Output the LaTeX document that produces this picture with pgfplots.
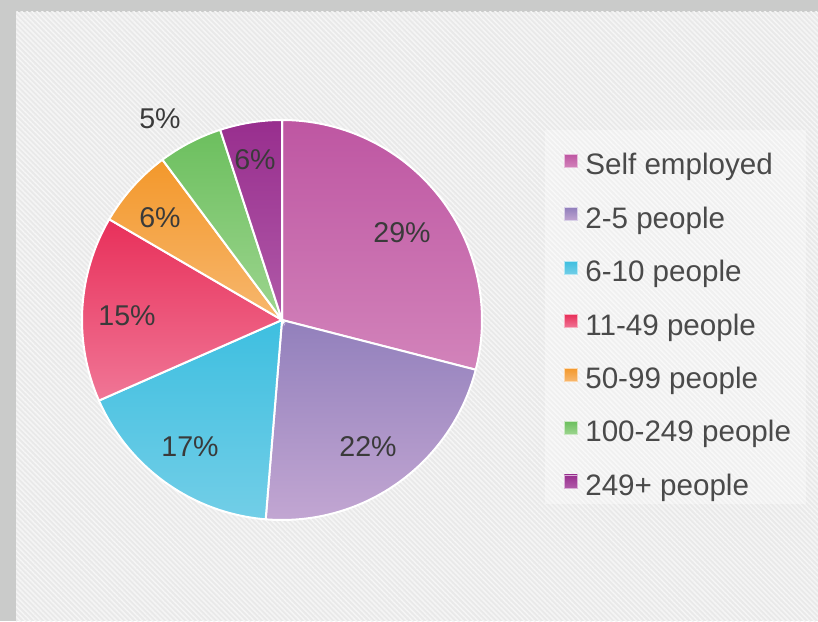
\documentclass[border=0pt]{standalone}
\usepackage{pgfplots}
\pgfplotsset{compat=1.18}
\usepackage{fontspec}
\setmainfont{Liberation Sans}
\usetikzlibrary{patterns.meta}

\definecolor{bordergray}{HTML}{CACBCA}
\definecolor{bgbase}{HTML}{E9E9E9}
\definecolor{bgline}{HTML}{F5F5F5}
\definecolor{labelgray}{HTML}{3A3A3A}
\definecolor{legendgray}{HTML}{4A4A4A}
% slice colours: top / bottom / legend
\definecolor{cAt}{HTML}{BE56A2}\definecolor{cAb}{HTML}{D283BA}\definecolor{cA}{HTML}{C25BA5}
\definecolor{cBt}{HTML}{9280BC}\definecolor{cBb}{HTML}{C2A6D2}\definecolor{cB}{HTML}{A08CC6}
\definecolor{cCt}{HTML}{3EBFE0}\definecolor{cCb}{HTML}{72CEE7}\definecolor{cC}{HTML}{45C3E2}
\definecolor{cDt}{HTML}{E8305A}\definecolor{cDb}{HTML}{F07696}\definecolor{cD}{HTML}{EB3D63}
\definecolor{cEt}{HTML}{F3982B}\definecolor{cEb}{HTML}{F7B76E}\definecolor{cE}{HTML}{F59D38}
\definecolor{cFt}{HTML}{6CBF5E}\definecolor{cFb}{HTML}{9DD58F}\definecolor{cF}{HTML}{7CC66C}
\definecolor{cGt}{HTML}{982E8E}\definecolor{cGb}{HTML}{B05AA8}\definecolor{cG}{HTML}{A03A98}

% shares in percent, clockwise from 12 o'clock
\def\vA{29}   % Self employed
\def\vB{22.3} % 2-5 people
\def\vC{17.1} % 6-10 people
\def\vD{15.0} % 11-49 people
\def\vE{6.4}  % 50-99 people
\def\vF{5.2}  % 100-249 people
\def\vG{5.0}  % 249+ people

\pgfmathsetmacro\aA{90}
\pgfmathsetmacro\aB{\aA-3.6*\vA}
\pgfmathsetmacro\aC{\aB-3.6*\vB}
\pgfmathsetmacro\aD{\aC-3.6*\vC}
\pgfmathsetmacro\aE{\aD-3.6*\vD}
\pgfmathsetmacro\aF{\aE-3.6*\vE}
\pgfmathsetmacro\aG{\aF-3.6*\vF}
\pgfmathsetmacro\aH{\aG-3.6*\vG}

\newcommand\slice[5]{% end, start, top, bottom, legend colour
  \addplot[draw=white, line width=1pt, top color=#3, bottom color=#4,
    domain=#1:#2, samples=80, variable=\t,
    legend image code/.code={\fill[#5, draw=white!60!#5, line width=0.4pt] (0pt,-0.05pt) rectangle (6.5pt,6.45pt);}]
    ({282+200*cos(\t)},{301+200*sin(\t)}) -- (axis cs:282,301) -- cycle;
}

\begin{document}
\begin{tikzpicture}
\begin{axis}[
  scale only axis, width=409pt, height=310.5pt,
  xmin=0, xmax=818, ymin=0, ymax=621,
  hide axis,
  legend cell align=left,
  legend style={at={(axis cs:563.5,467.5)}, anchor=north west, draw=none, fill=none,
    inner sep=0pt, row sep=13.2pt,
    font=\fontsize{14.8}{16}\selectfont, text=legendgray,
    nodes={inner sep=0pt, text height=10.5pt, text depth=3pt}},
  /tikz/every odd column/.append style={column sep=3.8pt},
]
% background
\addplot[fill=bordergray, draw=none, forget plot] coordinates {(0,0) (818,0) (818,621) (0,621)} -- cycle;
\addplot[fill=bgbase, draw=none, forget plot] coordinates {(16,0) (818,0) (818,609) (16,609)} -- cycle;
\addplot[draw=none, pattern={Lines[angle=-45, distance=1.8pt, line width=0.8pt]}, pattern color=bgline, forget plot] coordinates {(16,0) (818,0) (818,609) (16,609)} -- cycle;
% legend panel
\addplot[fill=white, fill opacity=0.35, draw=none, forget plot] coordinates {(545,117) (806,117) (806,491) (545,491)} -- cycle;

\slice{\aB}{\aA}{cAt}{cAb}{cA}
\addlegendentry{Self employed}
\slice{\aC}{\aB}{cBt}{cBb}{cB}
\addlegendentry{2-5 people}
\slice{\aD}{\aC}{cCt}{cCb}{cC}
\addlegendentry{6-10 people}
\slice{\aE}{\aD}{cDt}{cDb}{cD}
\addlegendentry{11-49 people}
\slice{\aF}{\aE}{cEt}{cEb}{cE}
\addlegendentry{50-99 people}
\slice{\aG}{\aF}{cFt}{cFb}{cF}
\addlegendentry{100-249 people}
\slice{\aH}{\aG}{cGt}{cGb}{cG}
\addlegendentry{249+ people}

\begin{scope}[every node/.style={anchor=base, text=labelgray, font=\fontsize{14.3}{16}\selectfont, inner sep=0pt}]
\node at (axis cs:402,378) {29\%};
\node at (axis cs:368,164) {22\%};
\node at (axis cs:190,164) {17\%};
\node at (axis cs:127,295) {15\%};
\node at (axis cs:160,393) {6\%};
\node at (axis cs:160,492) {5\%};
\node at (axis cs:255,451) {6\%};
\end{scope}
\end{axis}
\end{tikzpicture}
\end{document}
